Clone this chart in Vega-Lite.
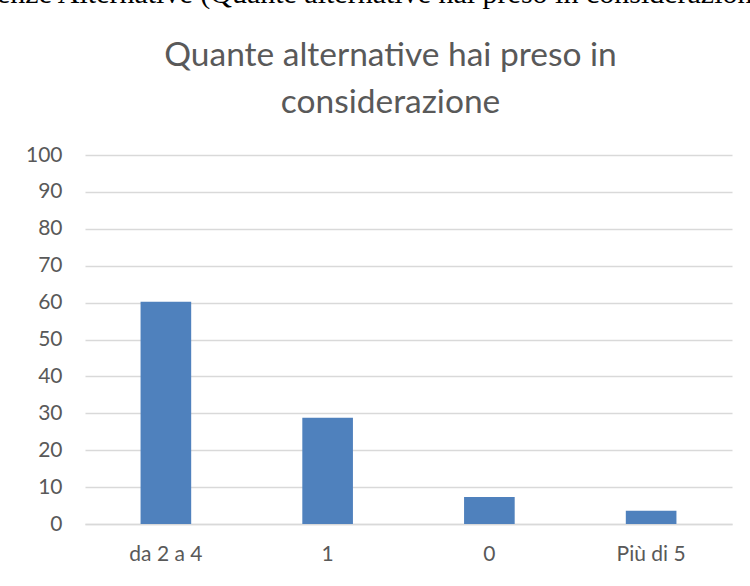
{
  "$schema": "https://vega.github.io/schema/vega-lite/v6.json",
  "width": 647,
  "height": 369,
  "autosize": {"type": "none"},
  "padding": {"left": 85, "top": 155, "right": 18, "bottom": 62},
  "background": "white",
  "title": {
    "text": "enze Alternative (Quante alternative hai preso in considerazione",
    "font": "Liberation Serif",
    "fontSize": 30,
    "fontWeight": "normal",
    "color": "#000000",
    "anchor": "start",
    "frame": "group",
    "baseline": "alphabetic",
    "dx": -88,
    "offset": 5
  },
  "data": {
    "values": [
      {"categoria": "da 2 a 4", "valore": 60.2},
      {"categoria": "1", "valore": 28.8},
      {"categoria": "0", "valore": 7.3},
      {"categoria": "Più di 5", "valore": 3.6}
    ]
  },
  "mark": {"type": "bar", "color": "#4f81bd"},
  "encoding": {
    "x": {
      "field": "categoria",
      "type": "nominal",
      "sort": ["da 2 a 4", "1", "0", "Più di 5"],
      "scale": {"paddingInner": 0.687, "paddingOuter": 0.3435},
      "axis": {
        "title": null,
        "labelAngle": 0,
        "labelFont": "Lato",
        "labelFontSize": 21,
        "labelColor": "#595959",
        "labelPadding": 19,
        "ticks": false,
        "domainColor": "#d9d9d9",
        "domainWidth": 1.5
      }
    },
    "y": {
      "field": "valore",
      "type": "quantitative",
      "scale": {"domain": [0, 100]},
      "axis": {
        "values": [0, 10, 20, 30, 40, 50, 60, 70, 80, 90, 100],
        "title": ["Quante alternative hai preso in", "considerazione"],
        "titleFont": "Lato",
        "titleFontSize": 33.5,
        "titleFontWeight": "normal",
        "titleColor": "#595959",
        "titleAngle": 0,
        "titleAlign": "center",
        "titleBaseline": "alphabetic",
        "titleLineHeight": 47,
        "titleX": 305,
        "titleY": -90,
        "labelFont": "Lato",
        "labelFontSize": 21,
        "labelColor": "#595959",
        "labelPadding": 23,
        "ticks": false,
        "domain": false,
        "gridColor": "#d9d9d9",
        "gridWidth": 1.5
      }
    }
  },
  "config": {"view": {"stroke": null}}
}
